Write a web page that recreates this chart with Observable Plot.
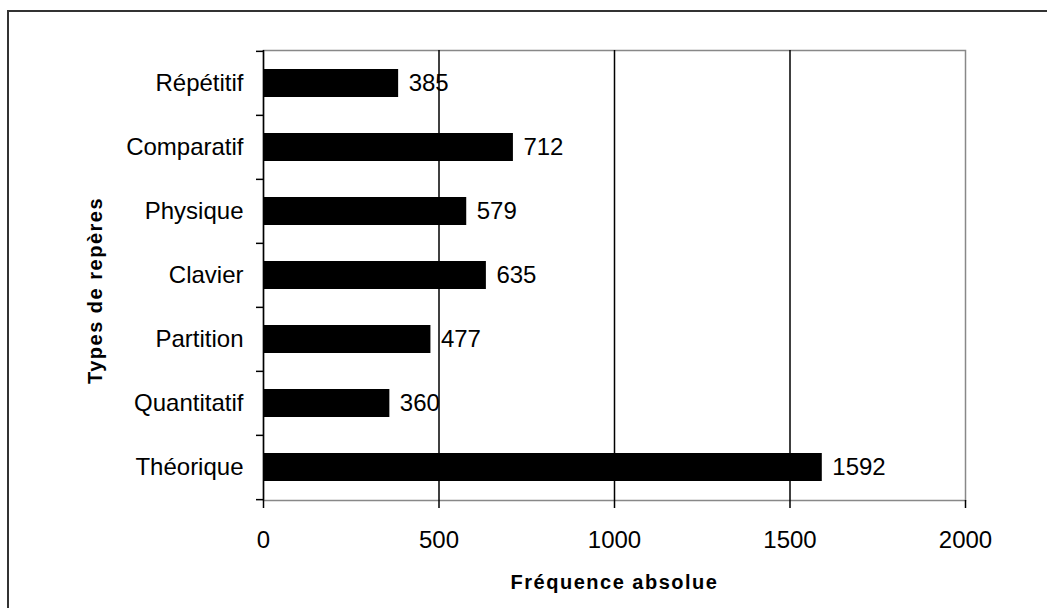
<!DOCTYPE html>
<html>
<head>
<meta charset="utf-8">
<script src="https://cdn.jsdelivr.net/npm/d3@7"></script>
<script src="https://cdn.jsdelivr.net/npm/@observablehq/plot@0.6"></script>
<style>
  html, body { margin: 0; padding: 0; background: #fff; overflow: hidden; }
  #wrap { position: relative; width: 1047px; height: 608px; }
  #border { position: absolute; left: 7px; top: 10px; width: 1200px; height: 800px;
            border-left: 2px solid #333; border-top: 2px solid #333; pointer-events: none; }
  svg { font-family: "Liberation Sans", Arial, sans-serif; }
</style>
</head>
<body>
<div id="wrap"><div id="border"></div></div>
<script>
const categories = ["Répétitif", "Comparatif", "Physique", "Clavier", "Partition", "Quantitatif", "Théorique"];
const values = [385, 712, 579, 635, 477, 360, 1592];
const xTicks = [0, 500, 1000, 1500, 2000];
const gridValues = [500, 1000, 1500];
const xLabel = "Fréquence absolue";
const yLabel = "Types de repères";

const data = categories.map((c, i) => ({cat: c, value: values[i]}));

const W = 1047, H = 608;
const mL = 263, mR = 82, mT = 50, mB = 108;
const bw = (H - mT - mB) / categories.length;

const chart = Plot.plot({
  width: W,
  height: H,
  marginLeft: mL,
  marginRight: mR,
  marginTop: mT,
  marginBottom: mB,
  style: {fontFamily: "'Liberation Sans', Arial, sans-serif", color: "black", background: "white"},
  x: {domain: [0, 2000], ticks: xTicks},
  y: {domain: categories, padding: 0},
  marks: [
    Plot.frame({stroke: "#888", strokeWidth: 1.5}),
    Plot.ruleX(gridValues, {stroke: "black", strokeWidth: 1.5}),
    Plot.barX(data, {x: "value", y: "cat", fill: "black", insetTop: 18, insetBottom: 18}),
    Plot.text(data, {x: "value", y: "cat", text: d => String(d.value), textAnchor: "start", dx: 10, fontSize: 24, fill: "black"}),
    Plot.ruleX([0], {stroke: "black", strokeWidth: 1.5}),
    Plot.axisX({ticks: xTicks, tickFormat: d3.format("d"), tickSize: 8, tickPadding: 22, fontSize: 24, label: null, line: true, stroke: "black", strokeWidth: 1.5, strokeOpacity: 1}),
    Plot.axisY({tickSize: 0, tickPadding: 20, fontSize: 24, label: null}),
    Plot.axisY({tickSize: 7, fill: "none", label: null, dy: -bw / 2, stroke: "black", strokeWidth: 1.5, strokeOpacity: 1}),
    Plot.axisY({ticks: [categories[categories.length - 1]], tickSize: 7, fill: "none", label: null, dy: bw / 2, stroke: "black", strokeWidth: 1.5, strokeOpacity: 1}),
    Plot.text([xLabel], {frameAnchor: "bottom", dy: 88, lineAnchor: "bottom", fontSize: 20, fontWeight: "bold", fill: "black"}),
    Plot.text([yLabel], {frameAnchor: "left", textAnchor: "middle", rotate: -90, dx: -168, dy: 15, fontSize: 20, fontWeight: "bold", fill: "black"})
  ]
});

d3.select(chart).selectAll("text")
  .filter(function() { const t = this.textContent; return t === xLabel || t === yLabel; })
  .style("letter-spacing", "1.5px");

document.getElementById("wrap").insertBefore(chart, document.getElementById("border"));
</script>
</body>
</html>
